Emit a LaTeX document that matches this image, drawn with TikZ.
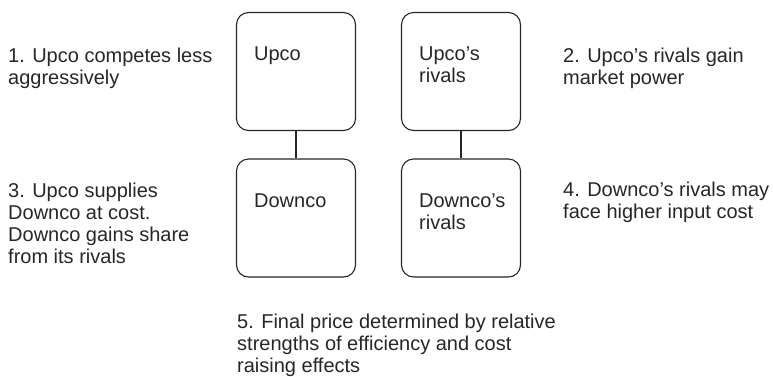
\documentclass[tikz,border=0pt]{standalone}
\usepackage{fontspec}
\setmainfont{Liberation Sans}

\tikzset{
  firm/.style={draw=black!85,line width=1.1pt,rounded corners=12pt,minimum width=119pt,minimum height=118pt,inner sep=0pt},
  note/.style={anchor=base west,align=left,inner sep=0pt,font=\fontsize{20}{22}\selectfont,text=black!85},
  firmname/.style={note,xshift=18pt,yshift=-49pt}
}

\begin{document}
\begin{tikzpicture}[x=1pt,y=-1pt]
    \useasboundingbox (0,0) rectangle (773,376);
    \node[firm] (up) at (296,71.5) {};
    \node[firm] (uprivals) at (461,71.5) {};
    \node[firm] (down) at (296,218) {};
    \node[firm] (downrivals) at (461,218) {};
    \node[firmname] (upname) at (up.north west) {Upco};
    \node[firmname,yshift=-22pt] (uprivalsname) at (uprivals.north west) {Upco’s\\rivals};
    \node[firmname] (downname) at (down.north west) {Downco};
    \node[firmname,yshift=-22pt] (downrivalsname) at (downrivals.north west) {Downco’s\\rivals};
    \draw [black!85,line width=1.1pt](up) -- (down);
    \draw [black!85,line width=1.1pt](uprivals) -- (downrivals);
    \node[note] (one) at (8,84) {1. Upco competes less\\aggressively};
    \node[note] (two) at (563,84) {2. Upco’s rivals gain\\market power};
    \node[note] (three) at (8,263) {3. Upco supplies\\Downco at cost.\\Downco gains share\\from its rivals};
    \node[note] (four) at (563,218) {4. Downco’s rivals may\\face higher input cost};
    \node[note] (five) at (237,372) {5. Final price determined by relative\\strengths of efficiency and cost\\raising effects};
\end{tikzpicture}
\end{document}
